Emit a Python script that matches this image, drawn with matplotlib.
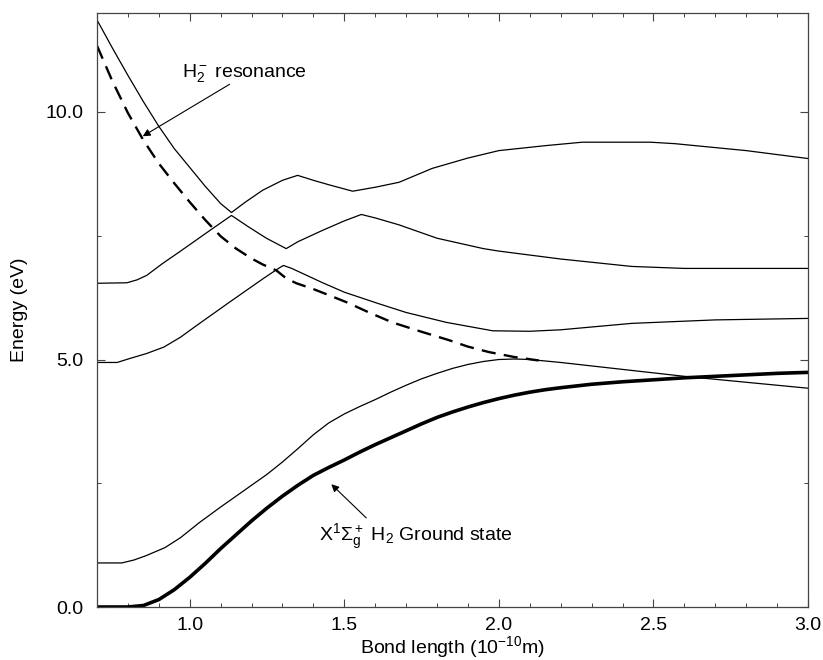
import numpy as np
import matplotlib
matplotlib.use("Agg")
import matplotlib.pyplot as plt
from matplotlib.ticker import MultipleLocator, FormatStrFormatter

plt.rcParams['font.family'] = ['Liberation Sans', 'DejaVu Sans']
plt.rcParams['mathtext.fontset'] = 'custom'
plt.rcParams['mathtext.rm'] = 'Liberation Sans'
plt.rcParams['mathtext.it'] = 'Liberation Sans:italic'
plt.rcParams['mathtext.default'] = 'regular'

# potential curves: bond length (1e-10 m), energy (eV)
ground_x = [0.70, 0.75, 0.80, 0.85, 0.90, 0.95, 1.00, 1.05, 1.10, 1.15,
            1.20, 1.25, 1.30, 1.35, 1.40, 1.45, 1.50, 1.55, 1.60, 1.65,
            1.70, 1.75, 1.80, 1.85, 1.90, 1.95, 2.00, 2.05, 2.10, 2.15,
            2.20, 2.30, 2.40, 2.50, 2.60, 2.70, 2.80, 2.90, 3.00]
ground_y = [0.00, 0.00, 0.00, 0.03, 0.15, 0.35, 0.60, 0.88, 1.18, 1.46,
            1.74, 2.00, 2.24, 2.46, 2.66, 2.82, 2.97, 3.13, 3.28, 3.42,
            3.56, 3.70, 3.83, 3.94, 4.04, 4.13, 4.21, 4.28, 4.34, 4.39,
            4.43, 4.50, 4.55, 4.59, 4.63, 4.66, 4.69, 4.72, 4.74]

d_x = [0.70, 0.78, 0.82, 0.86, 0.92, 0.97, 1.00, 1.03, 1.10, 1.20, 1.25,
       1.30, 1.35, 1.40, 1.45, 1.50, 1.55, 1.60, 1.65, 1.70, 1.75, 1.80,
       1.85, 1.90, 1.95, 2.00, 2.05, 2.10, 2.20, 2.40, 2.60, 2.80, 3.00]
d_y = [0.89, 0.89, 0.95, 1.04, 1.20, 1.40, 1.55, 1.70, 2.02, 2.46, 2.68,
       2.93, 3.20, 3.48, 3.72, 3.90, 4.05, 4.19, 4.34, 4.48, 4.61, 4.72,
       4.82, 4.90, 4.96, 5.00, 5.01, 5.00, 4.94, 4.80, 4.66, 4.54, 4.42]

c_x = [0.70, 0.765, 0.806, 0.86, 0.916, 0.97, 1.023, 1.129, 1.239, 1.287,
       1.303, 1.33, 1.43, 1.50, 1.61, 1.70, 1.83, 1.98, 2.10, 2.20, 2.43,
       2.70, 3.00]
c_y = [4.94, 4.94, 5.02, 5.12, 5.25, 5.45, 5.69, 6.16, 6.64, 6.84,
       6.90, 6.84, 6.55, 6.36, 6.13, 5.95, 5.75, 5.58, 5.57, 5.60, 5.73,
       5.80, 5.83]

b_x = [0.70, 0.797, 0.83, 0.861, 0.91, 0.968, 1.075, 1.135, 1.19, 1.248,
       1.312, 1.35, 1.43, 1.50, 1.555, 1.60, 1.677, 1.80, 1.95, 2.00, 2.20,
       2.43, 2.60, 3.00]
b_y = [6.54, 6.55, 6.61, 6.70, 6.93, 7.18, 7.65, 7.91, 7.68, 7.45,
       7.24, 7.38, 7.61, 7.80, 7.93, 7.86, 7.72, 7.45, 7.24, 7.19, 7.03,
       6.88, 6.84, 6.84]

a_x = [0.70, 0.75, 0.80, 0.85, 0.90, 0.95, 1.00, 1.05, 1.10, 1.135,
       1.18, 1.236, 1.30, 1.349, 1.40, 1.45, 1.527, 1.60, 1.677, 1.784,
       1.90, 2.00, 2.15, 2.27, 2.49, 2.57, 2.80, 3.00]
a_y = [11.86, 11.29, 10.74, 10.21, 9.71, 9.26, 8.88, 8.50, 8.15, 7.97,
       8.18, 8.42, 8.62, 8.72, 8.62, 8.53, 8.40, 8.48, 8.58, 8.86,
       9.07, 9.22, 9.32, 9.39, 9.39, 9.36, 9.22, 9.06]

res_x = [0.70, 0.75, 0.80, 0.85, 0.90, 0.95, 1.00, 1.05, 1.10, 1.15,
         1.20, 1.236, 1.28, 1.312, 1.345, 1.397, 1.45, 1.506, 1.58, 1.655,
         1.75, 1.839, 1.90, 1.968, 2.05, 2.129]
res_y = [11.34, 10.62, 9.98, 9.43, 8.96, 8.56, 8.18, 7.82, 7.49, 7.24,
         7.04, 6.92, 6.80, 6.64, 6.54, 6.43, 6.30, 6.16, 5.95, 5.75,
         5.56, 5.39, 5.26, 5.15, 5.05, 4.98]

fig = plt.figure(figsize=(8.23, 6.6), dpi=100)
ax = fig.add_axes([97 / 823, 53 / 660, 711 / 823, 594 / 660])

# thin excited-state curves
for xs, ys in [(a_x, a_y), (b_x, b_y), (c_x, c_y), (d_x, d_y)]:
    ax.plot(xs, ys, color='black', lw=0.9)
ax.plot(res_x, res_y, color='black', lw=1.7, dashes=(6, 3.5))
ax.plot(ground_x, ground_y, color='black', lw=2.6)

ax.set_xlim(0.7, 3.0)
ax.set_ylim(0.0, 12.0)
ax.xaxis.set_major_locator(MultipleLocator(0.5))
ax.xaxis.set_minor_locator(MultipleLocator(0.1))
ax.yaxis.set_major_locator(MultipleLocator(5.0))
ax.yaxis.set_minor_locator(MultipleLocator(2.5))
ax.xaxis.set_major_formatter(FormatStrFormatter('%.1f'))
ax.yaxis.set_major_formatter(FormatStrFormatter('%.1f'))
ax.tick_params(which='both', direction='in', top=True, right=True,
               color='#444444', labelsize=14)
ax.tick_params(which='major', length=6, width=0.8)
ax.tick_params(which='minor', length=3, width=0.7)
ax.tick_params(axis='y', pad=10)
ax.tick_params(axis='x', pad=7)
for sp in ax.spines.values():
    sp.set_color('#444444')
    sp.set_linewidth(0.9)

ax.set_xlabel(r'Bond length (10$^{-10}$m)', fontsize=14)
ax.set_ylabel('Energy (eV)', fontsize=14)
ax.xaxis.set_label_coords(0.5, -0.045)
ax.yaxis.set_label_coords(-0.097, 0.5)

arrow = dict(arrowstyle='-|>', color='black', lw=0.8, mutation_scale=11,
             shrinkA=0, shrinkB=0)
ax.text(0.974, 10.70, r'H$_2^-$ resonance', fontsize=14, va='baseline')
ax.annotate('', xy=(0.848, 9.51), xytext=(1.129, 10.56), arrowprops=arrow)
ax.text(1.419, 1.33, r'X$^1\Sigma_g^+$ H$_2$ Ground state', fontsize=14,
        va='baseline')
ax.annotate('', xy=(1.458, 2.48), xytext=(1.571, 1.80), arrowprops=arrow)

fig.savefig('out.png', dpi=100)
